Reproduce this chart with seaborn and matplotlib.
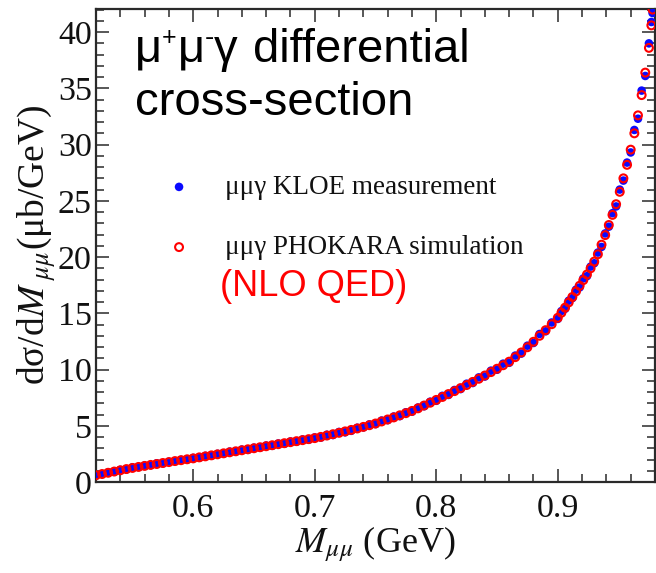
import matplotlib
matplotlib.use("Agg")
import matplotlib.pyplot as plt
from matplotlib.ticker import MultipleLocator
import pandas as pd
import seaborn as sns

# M_mumu bin centres (GeV)
mass = [
    0.520, 0.525, 0.530, 0.535, 0.540, 0.545, 0.550, 0.555, 0.560, 0.565,
    0.570, 0.575, 0.580, 0.585, 0.590, 0.595, 0.600, 0.605, 0.610, 0.615,
    0.620, 0.625, 0.630, 0.635, 0.640, 0.645, 0.650, 0.655, 0.660, 0.665,
    0.670, 0.675, 0.680, 0.685, 0.690, 0.695, 0.700, 0.705, 0.710, 0.715,
    0.720, 0.725, 0.730, 0.735, 0.740, 0.745, 0.750, 0.755, 0.760, 0.765,
    0.770, 0.775, 0.780, 0.785, 0.790, 0.795, 0.800, 0.805, 0.810, 0.815,
    0.820, 0.825, 0.830, 0.835, 0.840, 0.845, 0.850, 0.855, 0.860, 0.865,
    0.870, 0.875, 0.880, 0.885, 0.890, 0.895, 0.900, 0.903, 0.906, 0.909,
    0.912, 0.915, 0.918, 0.921, 0.924, 0.927, 0.930, 0.933, 0.936, 0.939,
    0.942, 0.945, 0.948, 0.951, 0.954, 0.957, 0.960, 0.963, 0.966, 0.969,
    0.972, 0.975, 0.977, 0.978,
]

# KLOE measurement, dsigma/dM (mub/GeV)
kloe = [
    0.62, 0.70, 0.85, 0.92, 1.08, 1.12, 1.30, 1.33, 1.46, 1.50,
    1.66, 1.65, 1.80, 1.84, 1.97, 2.00, 2.14, 2.16, 2.32, 2.34,
    2.50, 2.52, 2.70, 2.70, 2.88, 2.86, 3.05, 3.06, 3.24, 3.22,
    3.42, 3.40, 3.60, 3.58, 3.78, 3.76, 3.96, 3.95, 4.20, 4.18,
    4.45, 4.42, 4.55, 4.82, 4.86, 5.12, 5.15, 5.46, 5.50, 5.82,
    5.86, 6.20, 6.25, 6.62, 6.74, 7.14, 7.22, 7.66, 7.74, 8.18,
    8.26, 8.74, 8.80, 9.30, 9.38, 9.90, 9.98, 10.52, 10.60, 11.24,
    11.42, 12.12, 12.36, 13.16, 13.40, 14.18, 14.50, 15.20, 15.40, 16.12,
    16.35, 17.10, 17.30, 18.10, 18.30, 19.15, 19.45, 20.40, 20.90, 22.10,
    22.70, 23.90, 24.50, 26.00, 26.80, 28.40, 29.30, 31.30, 32.30, 34.80,
    36.10, 39.00, 40.90, 41.70,
]

# PHOKARA (NLO QED) simulation, dsigma/dM (mub/GeV)
phokara = [
    0.60, 0.71, 0.82, 0.93, 1.04, 1.15, 1.25, 1.34, 1.43, 1.52,
    1.60, 1.69, 1.77, 1.86, 1.94, 2.02, 2.10, 2.19, 2.28, 2.37,
    2.46, 2.55, 2.64, 2.73, 2.82, 2.91, 3.00, 3.09, 3.18, 3.27,
    3.36, 3.45, 3.54, 3.63, 3.72, 3.81, 3.90, 4.01, 4.13, 4.25,
    4.37, 4.50, 4.63, 4.76, 4.90, 5.05, 5.20, 5.38, 5.56, 5.74,
    5.93, 6.12, 6.32, 6.55, 6.80, 7.05, 7.30, 7.56, 7.82, 8.08,
    8.35, 8.62, 8.90, 9.18, 9.47, 9.77, 10.07, 10.38, 10.70, 11.10,
    11.52, 11.98, 12.47, 13.00, 13.50, 14.03, 14.60, 15.05, 15.50, 15.97,
    16.45, 16.95, 17.45, 17.95, 18.45, 19.00, 19.60, 20.25, 21.10, 21.95,
    22.85, 23.75, 24.70, 25.80, 27.00, 28.20, 29.55, 31.00, 32.60, 34.40,
    36.40, 38.60, 40.60, 42.00,
]

x_major = [0.6, 0.7, 0.8, 0.9]
y_major = [0, 5, 10, 15, 20, 25, 30, 35, 40]

df = pd.DataFrame({"mass": mass, "kloe": kloe, "phokara": phokara})

sns.set_theme(style="ticks")
plt.rcParams["font.family"] = ["Liberation Serif", "DejaVu Serif"]

W, H, DPI = 656, 573, 100
fig = plt.figure(figsize=(W / DPI, H / DPI), dpi=DPI)
ax = fig.add_axes([96 / W, 1 - 482 / H, (655 - 96) / W, (482 - 8.5) / H])

sns.scatterplot(data=df, x="mass", y="kloe", ax=ax, marker="o", s=38,
                color="#0a0aff", edgecolor="none", linewidth=0,
                label="μμγ KLOE measurement", zorder=3)
sns.scatterplot(data=df, x="mass", y="phokara", ax=ax, marker="o", s=32,
                fc="none", ec="#ff0000", linewidth=1.5,
                label="μμγ PHOKARA simulation", zorder=4)

ax.set_xlim(0.52, 0.98)
ax.set_ylim(0, 42.1)
ax.set_xticks(x_major)
ax.set_xticklabels([f"{v:.1f}" for v in x_major])
ax.set_yticks(y_major)
ax.set_yticklabels([str(v) for v in y_major])
ax.xaxis.set_minor_locator(MultipleLocator(0.02))
ax.yaxis.set_minor_locator(MultipleLocator(1))

axis_col = "#2a2a2a"
for side in ["left", "right", "top", "bottom"]:
    ax.spines[side].set_visible(True)
    ax.spines[side].set_linewidth(1.6)
    ax.spines[side].set_color(axis_col)
ax.tick_params(which="both", direction="in", top=True, right=True,
               color=axis_col, width=1.1, labelcolor="#111111",
               labelsize=24.5)
ax.tick_params(which="major", length=9.5)
ax.tick_params(which="minor", length=5.8)
ax.tick_params(axis="y", pad=3)
ax.tick_params(axis="x", pad=8)

ax.set_xlabel(r"$M_{\mu\mu}$ (GeV)", fontsize=26, color="#111111",
              math_fontfamily="stix", labelpad=0)
ax.set_ylabel(r"dσ/d$M_{\ \mu\mu}$(μb/GeV)", fontsize=27, color="#111111",
              math_fontfamily="stix", labelpad=0)

handles, labels = ax.get_legend_handles_labels()
ax.legend(handles, labels, loc="upper left",
          bbox_to_anchor=(165.5 / W, 1 - 175 / H), bbox_transform=fig.transFigure,
          frameon=False, fontsize=19.5, borderpad=0, borderaxespad=0,
          handlelength=1.0, handletextpad=1.2, labelspacing=1.3,
          labelcolor="#111111")

sans = ["Liberation Sans", "DejaVu Sans"]

# First heading line: particles with raised charge signs, then the word
renderer = fig.canvas.get_renderer()
pieces = [
    ("μ", 34, 0, 0),
    ("+", 18, 17, 0),
    ("μ", 34, 0, 1),
    ("-", 20, 17, 0),
    ("γ", 34, 0, 0),
    ("differential", 34, 0, 15),
]
x_px = 135.0
for txt, size, rise, gap in pieces:
    x_px += gap
    t = fig.text(x_px / W, 1 - (62 - rise) / H, txt, fontsize=size,
                 color="black", family=sans, va="baseline", ha="left")
    x_px += t.get_window_extent(renderer).width

fig.text(135 / W, 1 - 115 / H, "cross-section",
         fontsize=34, color="black", family=sans, va="baseline", ha="left")
fig.text(220 / W, 1 - 287 / H, "(NLO QED)", fontsize=26, color="#ff0000",
         family=sans, va="center", ha="left")

fig.savefig("out.png", dpi=DPI)
